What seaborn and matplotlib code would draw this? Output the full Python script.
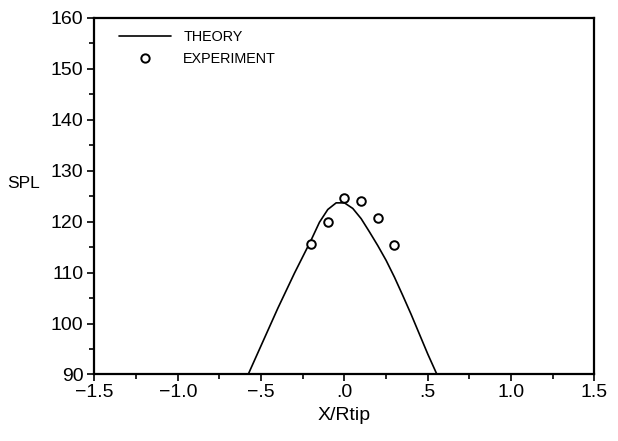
import numpy as np
import pandas as pd
import matplotlib
matplotlib.use("Agg")
import matplotlib.pyplot as plt
from matplotlib.ticker import FixedLocator, FixedFormatter, MultipleLocator
from matplotlib.lines import Line2D
import seaborn as sns

# Theory curve: SPL against normalised position X/Rtip
theory_x = [-0.578, -0.5, -0.4, -0.3, -0.2, -0.15, -0.1, -0.05, 0.0, 0.05, 0.1, 0.15, 0.2, 0.25, 0.3, 0.35, 0.4, 0.45, 0.5, 0.555]
theory_spl = [90.0, 95.7, 103.0, 109.9, 116.4, 119.9, 122.4, 123.7, 123.7, 122.6, 120.6, 118.0, 115.3, 112.4, 109.1, 105.5, 101.8, 97.9, 94.0, 90.0]

# Measured SPL
exp_x = [-0.2, -0.1, 0.0, 0.1, 0.2, 0.3]
exp_spl = [115.6, 120.0, 124.7, 124.1, 120.7, 115.4]

x_ticks = [-1.5, -1.0, -0.5, 0.0, 0.5, 1.0, 1.5]
x_tick_labels = ["\u22121.5", "\u22121.0", "\u2212.5", ".0", ".5", "1.0", "1.5"]
y_ticks = [90, 100, 110, 120, 130, 140, 150, 160]
y_tick_labels = ["90", "100", "110", "120", "130", "140", "150", "160"]

sns.set_style("ticks")
plt.rcParams["font.family"] = ["Liberation Sans", "DejaVu Sans"]
plt.rcParams["text.color"] = "black"
plt.rcParams["axes.labelcolor"] = "black"

fig = plt.figure(figsize=(6.18, 4.41), dpi=100)
ax = fig.add_axes([0.1529, 0.1508, 0.809, 0.8084])

theory = pd.DataFrame({"x": theory_x, "spl": theory_spl})
exp = pd.DataFrame({"x": exp_x, "spl": exp_spl})

sns.lineplot(data=theory, x="x", y="spl", ax=ax, color="black", linewidth=1.2,
             sort=False, estimator=None)
sns.scatterplot(data=exp, x="x", y="spl", ax=ax, marker="o", s=38,
                facecolor="white", edgecolor="black", linewidth=1.4, zorder=3)

ax.set_xlim(-1.5, 1.5)
ax.set_ylim(90, 160)
ax.xaxis.set_major_locator(FixedLocator(x_ticks))
ax.xaxis.set_major_formatter(FixedFormatter(x_tick_labels))
ax.xaxis.set_minor_locator(MultipleLocator(0.25))
ax.yaxis.set_major_locator(FixedLocator(y_ticks))
ax.yaxis.set_major_formatter(FixedFormatter(y_tick_labels))
ax.yaxis.set_minor_locator(MultipleLocator(5))

ax.tick_params(which="major", direction="out", length=5, width=1.2,
               labelsize=14, colors="black", pad=3)
ax.tick_params(which="minor", direction="out", length=3.4, width=1.2, colors="black")
ax.tick_params(axis="x", which="major", pad=2)

for side in ["left", "right", "top", "bottom"]:
    ax.spines[side].set_visible(True)
    ax.spines[side].set_linewidth(1.6)
    ax.spines[side].set_color("black")

ax.set_xlabel("X/Rtip", fontsize=14, labelpad=4)
ax.set_ylabel("")
fig.text(24 / 618, 1 - 183 / 441, "SPL", fontsize=12.5, ha="center", va="center")

handles = [
    Line2D([], [], color="black", linewidth=1.2),
    Line2D([], [], color="black", linestyle="none", marker="o", markersize=6,
           markerfacecolor="white", markeredgewidth=1.4),
]
leg = ax.legend(handles, ["THEORY", "EXPERIMENT"], loc="upper left",
                bbox_to_anchor=(0.049, 0.966), frameon=False, fontsize=10.4,
                handlelength=3.6, handletextpad=0.85, labelspacing=0.55,
                borderaxespad=0, borderpad=0)
for t in leg.get_texts():
    t.set_color("black")

fig.savefig("out.png", dpi=100, facecolor="white")
